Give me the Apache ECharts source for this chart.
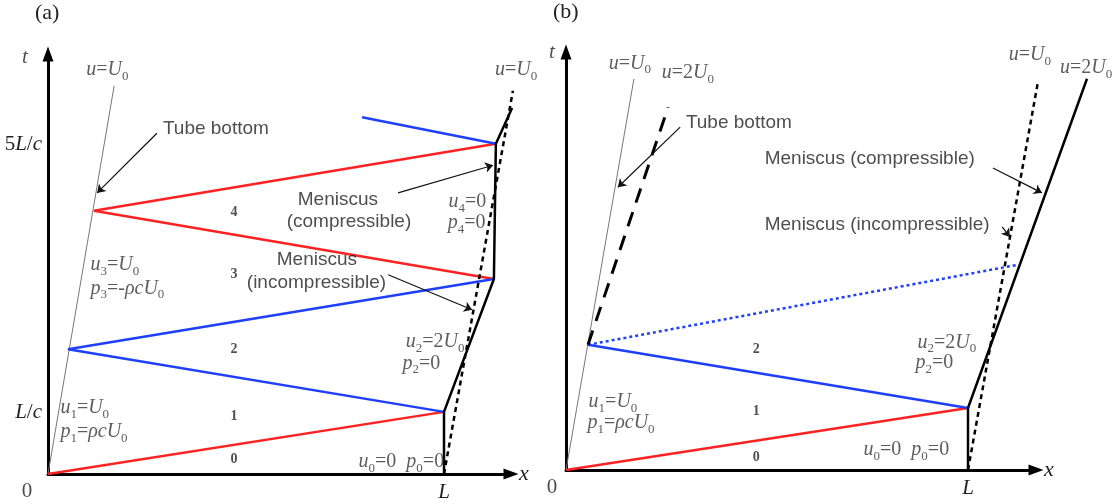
<!DOCTYPE html>
<html>
<head>
<meta charset="utf-8">
<script src="https://cdn.jsdelivr.net/npm/echarts@6/dist/echarts.min.js"></script>
<style>
html, body { margin: 0; background: #fff; }
#chart { width: 1119px; height: 504px; }
</style>
</head>
<body>
<div id="chart"></div>
<script>
// x in units of L, t in units of L/c (schematic)
var tubeA = [[0, 0], [0.167, 6.31]];
var redA = [[[0, 0], [1, 1.01]], [[1.126, 3.17], [0.116, 4.28], [1.131, 5.37]]];
var blueA = [[[1, 1.01], [0.0505, 2.03], [1.126, 3.17]], [[1.131, 5.37], [0.793, 5.80]]];
var menCompA = [[1, 0], [1, 1.01], [1.126, 3.17], [1.131, 5.37], [1.172, 5.95]];
var menIncA = [[1, 0], [1.174, 6.23]];

var tubeB = [[0, 0], [0.169, 6.31]];
var tubeCompB = [[0.0547, 2.02], [0.254, 5.85]];
var redB = [[0, 0], [1, 1.0]];
var blueB = [[1, 1.0], [0.0547, 2.02]];
var blueDotB = [[0.0547, 2.02], [1.124, 3.31]];
var menCompB = [[1, 0], [1, 1.0], [1.296, 6.31]];
var menIncB = [[1, 0], [1.174, 6.26]];

var tTicksA = [1, 5.35];
var tTickLabelsA = ['L/c', '5L/c'];
var xTicks = [1];
var xTickLabels = ['L'];

// text notes: [x, t, text, kind, anchor]   ( _n = subscript )
var notesA = [
    [-0.058, 6.78, 't', 'M', 'c'],
    [-0.053, -0.29, '0', 'M', 'c'],
    [0.150, 6.57, 'u=U_0', 'm', 'c'],
    [0.424, 5.61, 'Tube bottom', 's', 'c'],
    [0.470, 4.26, '4', 'b', 'c'],
    [0.470, 3.24, '3', 'b', 'c'],
    [0.470, 2.02, '2', 'b', 'c'],
    [0.470, 0.93, '1', 'b', 'c'],
    [0.470, 0.23, '0', 'b', 'c'],
    [0.106, 3.40, 'u_3=U_0', 'm', 'l'],
    [0.106, 3.02, 'p_3=-ρcU_0', 'm', 'l'],
    [0.030, 1.07, 'u_1=U_0', 'm', 'l'],
    [0.030, 0.68, 'p_1=ρcU_0', 'm', 'l'],
    [0.732, 4.46, 'Meniscus', 's', 'c'],
    [0.760, 4.10, '(compressible)', 's', 'c'],
    [0.679, 3.48, 'Meniscus', 's', 'c'],
    [0.678, 3.11, '(incompressible)', 's', 'c'],
    [1.010, 4.42, 'u_4=0', 'm', 'l'],
    [1.008, 4.08, 'p_4=0', 'm', 'l'],
    [1.182, 6.57, 'u=U_0', 'm', 'c'],
    [0.902, 2.15, 'u_2=2U_0', 'm', 'l'],
    [0.894, 1.80, 'p_2=0', 'm', 'l'],
    [0.783, 0.195, 'u_0=0  p_0=0', 'm', 'l']
];
var arrowsA = [
    [[0.275, 5.54], [0.124, 4.57]],
    [[0.884, 4.57], [1.124, 5.02]],
    [[0.859, 3.24], [1.071, 2.67]]
];

var notesB = [
    [-0.035, 6.73, 't', 'M', 'c'],
    [-0.035, -0.29, '0', 'M', 'c'],
    [0.159, 6.56, 'u=U_0', 'm', 'c'],
    [0.303, 6.40, 'u=2U_0', 'm', 'c'],
    [0.430, 5.60, 'Tube bottom', 's', 'c'],
    [1.154, 6.69, 'u=U_0', 'm', 'c'],
    [1.294, 6.48, 'u=2U_0', 'm', 'c'],
    [0.493, 5.02, 'Meniscus (compressible)', 's', 'l'],
    [0.493, 3.95, 'Meniscus (incompressible)', 's', 'l'],
    [0.473, 1.94, '2', 'b', 'c'],
    [0.473, 0.95, '1', 'b', 'c'],
    [0.473, 0.21, '0', 'b', 'c'],
    [0.055, 1.10, 'u_1=U_0', 'm', 'l'],
    [0.052, 0.76, 'p_1=ρcU_0', 'm', 'l'],
    [0.873, 2.06, 'u_2=2U_0', 'm', 'l'],
    [0.868, 1.73, 'p_2=0', 'm', 'l'],
    [0.739, 0.32, 'u_0=0  p_0=0', 'm', 'l']
];
var arrowsB = [
    [[0.284, 5.53], [0.129, 4.56]],
    [[1.062, 4.87], [1.184, 4.47]],
    [[1.085, 3.92], [1.104, 3.76]]
];

var SERIF = '"Liberation Serif", "Times New Roman", "DejaVu Serif", serif';
var SANS = '"Liberation Sans", Arial, sans-serif';
var RED = '#ff2222';
var BLUE = '#1f3fff';
var GREY = '#333';

var rich = {
    i: { fontFamily: SERIF, fontStyle: 'italic', fontSize: 20, lineHeight: 20, verticalAlign: 'top', color: GREY },
    n: { fontFamily: SERIF, fontSize: 20, lineHeight: 20, verticalAlign: 'top', color: GREY },
    d: { fontFamily: SERIF, fontSize: 13, lineHeight: 13, verticalAlign: 'top', padding: [10, 0, 0, 0], color: GREY },
    I: { fontFamily: SERIF, fontStyle: 'italic', fontSize: 21, color: '#222' },
    N: { fontFamily: SERIF, fontSize: 21, color: '#222' },
    s: { fontFamily: SANS, fontSize: 19, color: '#222' },
    b: { fontFamily: SERIF, fontWeight: 'bold', fontSize: 14, color: '#222' }
};

// letters italic, signs upright, _n subscript
function math(s, big) {
    var a = big ? 'I' : 'i', b = big ? 'N' : 'n';
    return s.split(/(_\d|[A-Za-zρ]+)/).filter(Boolean).map(function (p) {
        if (p[0] === '_') return '{d|' + p.slice(1) + '}';
        return /^[A-Za-zρ]+$/.test(p) ? '{' + a + '|' + p + '}' : '{' + b + '|' + p + '}';
    }).join('');
}

function fmt(text, kind) {
    if (kind === 'm') return math(text, false);
    if (kind === 'M') return math(text, true);
    return '{' + kind + '|' + text + '}';
}

var chart = echarts.init(document.getElementById('chart'));

// axes live on grids 0/1, the marks on the wider hidden grids 2/3 with the same px scale
function line(idx, pts, color, width, type, z) {
    return {
        type: 'line', xAxisIndex: idx + 2, yAxisIndex: idx + 2, data: pts,
        symbol: 'none', silent: true, z: z || 2,
        lineStyle: { color: color, width: width, type: type || 'solid', cap: 'butt' }
    };
}

function notes(idx, list) {
    return {
        type: 'scatter', xAxisIndex: idx + 2, yAxisIndex: idx + 2, silent: true, clip: false,
        symbolSize: 1, itemStyle: { color: 'rgba(0,0,0,0)' }, z: 5,
        data: list.map(function (n) {
            return {
                value: [n[0], n[1]],
                label: {
                    show: true, formatter: fmt(n[2], n[3]), rich: rich,
                    position: n[4] === 'l' ? 'right' : 'inside', distance: 0
                }
            };
        })
    };
}

function arrows(idx, list) {
    return {
        type: 'lines', coordinateSystem: 'cartesian2d', xAxisIndex: idx + 2, yAxisIndex: idx + 2,
        silent: true, clip: false, z: 4,
        symbol: ['none', 'arrow'], symbolSize: 8,
        lineStyle: { color: '#111', width: 1.2, opacity: 1 },
        data: list.map(function (a) { return { coords: a }; })
    };
}

function xAxis(idx, max) {
    return {
        type: 'value', gridIndex: idx, min: 0, max: max,
        axisLine: { show: true, onZero: false, symbol: ['none', 'triangle'], symbolSize: [11, 15],
            lineStyle: { color: '#000', width: 3 } },
        axisTick: { show: false }, splitLine: { show: false },
        axisLabel: {
            customValues: xTicks, margin: 8, rich: rich,
            formatter: function (v) { return math(xTickLabels[xTicks.indexOf(v)] || '', true); }
        },
        name: 'x', nameLocation: 'end', nameGap: 8,
        nameTextStyle: { fontFamily: SERIF, fontStyle: 'italic', fontSize: 22, color: '#222', verticalAlign: 'middle' }
    };
}

function yAxis(idx, max, ticks, labels) {
    return {
        type: 'value', gridIndex: idx, min: 0, max: max,
        axisLine: { show: true, onZero: false, symbol: ['none', 'triangle'], symbolSize: [11, 15],
            lineStyle: { color: '#000', width: 3 } },
        axisTick: { show: false }, splitLine: { show: false },
        axisLabel: {
            show: ticks.length > 0, customValues: ticks, margin: 6, rich: rich,
            formatter: function (v) { return math(labels[ticks.indexOf(v)] || '', true); }
        }
    };
}

function hidden(idx, max) {
    return { type: 'value', gridIndex: idx, min: 0, max: max, show: false, splitLine: { show: false } };
}

var titleStyle = { fontFamily: SERIF, fontWeight: 'normal', fontSize: 22, color: '#222' };

var option = {
    animation: false,
    backgroundColor: '#fff',
    title: [
        { text: '(a)', left: 35, top: 2, padding: 0, textStyle: titleStyle },
        { text: '(b)', left: 553, top: 1, padding: 0, textStyle: titleStyle }
    ],
    grid: [
        { left: 48, top: 54, width: 463, height: 420, outerBoundsMode: 'none' },
        { left: 566, top: 52, width: 470, height: 418, outerBoundsMode: 'none' },
        { left: 48, top: 54, width: 540, height: 420, outerBoundsMode: 'none' },
        { left: 566, top: 52, width: 540, height: 418, outerBoundsMode: 'none' }
    ],
    xAxis: [xAxis(0, 1.169), xAxis(1, 1.169), hidden(2, 540 / 396), hidden(3, 540 / 402)],
    yAxis: [yAxis(0, 6.829, tTicksA, tTickLabelsA), yAxis(1, 6.742, [], []), hidden(2, 6.829), hidden(3, 6.742)],
    series: [].concat(
        [line(0, tubeA, '#777', 1)],
        redA.map(function (p) { return line(0, p, RED, 2.5); }),
        blueA.map(function (p) { return line(0, p, BLUE, 2.5); }),
        [line(0, menIncA, '#000', 2.5, [5, 4], 3),
         line(0, menCompA, '#000', 2.5, 'solid', 3),
         notes(0, notesA), arrows(0, arrowsA)],
        [line(1, tubeB, '#777', 1),
         line(1, tubeCompB, '#000', 3, [15, 10], 3),
         line(1, redB, RED, 2.5),
         line(1, blueB, BLUE, 2.5),
         line(1, blueDotB, BLUE, 2.5, [3, 3]),
         line(1, menIncB, '#000', 2.5, [5, 4], 3),
         line(1, menCompB, '#000', 2.5, 'solid', 3),
         notes(1, notesB), arrows(1, arrowsB)]
    )
};

chart.setOption(option);
</script>
</body>
</html>
